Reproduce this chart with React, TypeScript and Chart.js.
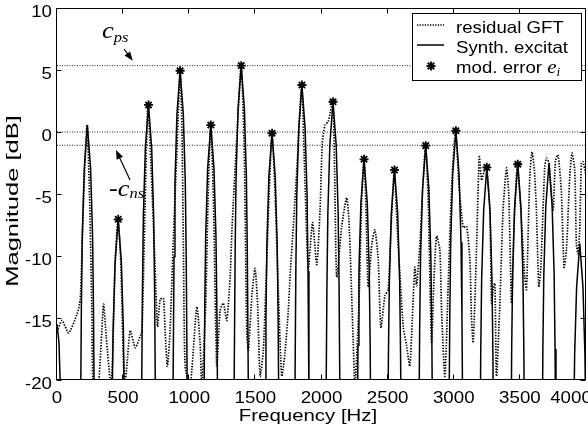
import React, { useEffect, useRef } from "react";
import { Chart, registerables } from "chart.js";

Chart.register(...registerables);

// ---------------- data ----------------
const X_TICKS = [0, 500, 1000, 1500, 2000, 2500, 3000, 3500, 4000];
const X_TICK_LABELS = ["0", "500", "1000", "1500", "2000", "2500", "3000", "3500", "4000"];
const Y_TICKS = [10, 5, 0, -5, -10, -15, -20];
const Y_TICK_LABELS = ["10", "5", "0", "-5", "-10", "-15", "-20"];

// harmonic peaks of the synthesized excitation (Hz, dB)
const HARMONIC_HZ = [230, 463, 692, 931, 1163, 1393, 1626, 1852, 2087, 2322, 2552, 2788, 3016, 3250, 3484, 3720, 3953];
const PEAK_DB = [0.56, -7.04, 2.18, 4.94, 0.56, 5.35, -0.1, 3.79, 2.44, -2.2, -3.06, -1.1, 0.1, -2.85, -2.6, -2.5, -9.0];

// main-lobe shape read around each peak (offset Hz, drop below the peak in dB)
const LOBE_OFFSET_HZ = [-60, -53, -46, -39, -24, 0, 24, 39, 46, 53, 60];
const LOBE_DROP_DB = [50, 25, 15, 9, 3.5, 0, 3.5, 9, 15, 25, 50];

// partial lobe at 0 Hz
const DC_HZ = [0, 15, 25, 40];
const DC_DB = [-15.5, -17, -20.5, -45];

// model error markers
const STAR_HZ = [463, 692, 931, 1163, 1393, 1626, 1852, 2087, 2322, 2552, 2788, 3016, 3250, 3484];
const STAR_DB = [-7.04, 2.18, 4.94, 0.56, 5.35, -0.1, 3.79, 2.44, -2.2, -3.06, -1.1, 0.1, -2.85, -2.6];

// residual GFT (dotted)
const RESID_HZ = [
  0, 38, 88, 151, 176, 199, 227, 248, 263, 274, 312, 352, 372, 408, 421, 440, 461, 482, 501, 512,
  531, 554, 591, 618, 642, 659, 687, 712, 731, 742, 760, 780, 805, 818, 835, 855, 882, 905, 931, 945,
  956, 969, 1007, 1057, 1082, 1095, 1124, 1143, 1163, 1184, 1208, 1233, 1258, 1284, 1309, 1322, 1334, 1362, 1392, 1415,
  1435, 1447, 1475, 1498, 1517, 1536, 1560, 1581, 1604, 1626, 1649, 1671, 1699, 1724, 1749, 1762, 1787, 1819, 1850, 1875,
  1900, 1932, 1964, 1989, 2006, 2026, 2051, 2085, 2099, 2115, 2153, 2190, 2207, 2219, 2240, 2253, 2283, 2302, 2321, 2336,
  2353, 2381, 2404, 2429, 2449, 2480, 2505, 2525, 2550, 2574, 2618, 2643, 2668, 2687, 2706, 2719, 2744, 2763, 2787, 2808,
  2832, 2850, 2870, 2895, 2908, 2933, 2959, 2986, 3014, 3038, 3071, 3097, 3122, 3134, 3147, 3172, 3193, 3211, 3229, 3248,
  3273, 3286, 3298, 3311, 3323, 3348, 3373, 3399, 3416, 3437, 3458, 3482, 3511, 3537, 3550, 3575, 3592, 3609, 3625, 3643,
  3658, 3688, 3701, 3720, 3751, 3769, 3789, 3814, 3834, 3852, 3877, 3894, 3915, 3927, 3939, 3952, 3965, 3977, 4000,
];
const RESID_DB = [
  -16.1, -15.2, -16.2, -14.7, -13.5, -6, 0.56, -6, -14, -20.5, -20.5, -13.9, -16.5, -20.5, -18, -10.5, -7.04, -10.5, -18, -20.5,
  -18.5, -16.0, -17.4, -16.8, -16.0, -9, 2.18, -3, -8, -11, -15.7, -13.5, -13.4, -16.2, -18.9, -16, -8, -2, 4.94, 0,
  -9.5, -18.9, -20.5, -14.1, -17, -20.5, -14, -5, 0.56, -6, -18.9, -14.4, -13.8, -15.2, -11.7, -8.1, -5.5, 0, 5.35, -1,
  -16.2, -17.6, -13, -11, -14, -19.7, -17.6, -12, -5, -0.1, -5, -12, -19.7, -17.8, -14.4, -11.7, -7.6, -2, 3.79, -4,
  -11.1, -7.3, -10.7, -6.3, -0.9, 0.56, 0.83, 2.44, -3, -11.7, -7.6, -5.3, -7, -10.3, -17, -20.5, -14, -6, -2.2, -6,
  -12.5, -9, -7.9, -10.3, -15.8, -13.2, -12.7, -8, -3.06, -8, -15.7, -17.2, -18.9, -15, -10.9, -12.4, -9, -5, -1.1, -6,
  -17, -12, -8.4, -9.5, -14.4, -19.7, -12, -4, 0.1, -4, -7.7, -7.6, -10.3, -15, -17, -9.5, -2.0, -3.9, -3.2, -2.85,
  -6.3, -13.8, -12.7, -12.2, -19.7, -14, -6.3, -2.9, -5, -13.8, -7, -2.6, -7, -11.7, -12.7, -3.6, -1.6, -3, -6.3, -12.5,
  -11, -2.8, -2.1, -2.5, -6.3, -2.3, -1.85, -4.9, -10.9, -9.5, -3.6, -1.7, -3.1, -9, -9.8, -8, -2.5, -2.4, -3.5,
];

// threshold lines
const C_PS_DB = 5.35;
const ZERO_DB = 0;
const C_NS_DB = -1.07;

const X_MIN = 0;
const X_MAX = 4000;
const Y_MIN = -20;
const Y_MAX = 10;

// ---------------- drawing helpers ----------------
const SANS = '"Liberation Sans", Arial, Helvetica, sans-serif';
const SERIF = '"Liberation Serif", "Times New Roman", serif';

function txt(ctx: CanvasRenderingContext2D, s: string, x: number, y: number, font: string, align: string, sx: number) {
  ctx.save();
  ctx.font = font;
  ctx.textAlign = "left";
  ctx.textBaseline = "alphabetic";
  const w = ctx.measureText(s).width * sx;
  const x0 = align === "center" ? x - w / 2 : align === "right" ? x - w : x;
  ctx.translate(x0, y);
  ctx.scale(sx, 1);
  ctx.fillStyle = "#000";
  ctx.fillText(s, 0, 0);
  ctx.restore();
  return w;
}

function arrow(ctx: CanvasRenderingContext2D, x1: number, y1: number, x2: number, y2: number) {
  const a = Math.atan2(y2 - y1, x2 - x1);
  const hl = 9;
  const hw = 3.5;
  ctx.save();
  ctx.strokeStyle = "#000";
  ctx.fillStyle = "#000";
  ctx.lineWidth = 1.2;
  ctx.beginPath();
  ctx.moveTo(x1, y1);
  ctx.lineTo(x2 - Math.cos(a) * hl * 0.8, y2 - Math.sin(a) * hl * 0.8);
  ctx.stroke();
  ctx.beginPath();
  ctx.moveTo(x2, y2);
  ctx.lineTo(x2 - Math.cos(a) * hl + Math.sin(a) * hw, y2 - Math.sin(a) * hl - Math.cos(a) * hw);
  ctx.lineTo(x2 - Math.cos(a) * hl - Math.sin(a) * hw, y2 - Math.sin(a) * hl + Math.cos(a) * hw);
  ctx.closePath();
  ctx.fill();
  ctx.restore();
}

function starMark(ctx: CanvasRenderingContext2D, x: number, y: number, r: number) {
  ctx.save();
  ctx.strokeStyle = "#000";
  ctx.lineWidth = 1.8;
  ctx.beginPath();
  ctx.moveTo(x - r, y);
  ctx.lineTo(x + r, y);
  ctx.moveTo(x, y - r);
  ctx.lineTo(x, y + r);
  const d = r * 0.72;
  ctx.moveTo(x - d, y - d);
  ctx.lineTo(x + d, y + d);
  ctx.moveTo(x - d, y + d);
  ctx.lineTo(x + d, y - d);
  ctx.stroke();
  ctx.restore();
}

const decorPlugin = {
  id: "decor",
  beforeDraw(chart: any) {
    const ctx = chart.ctx;
    ctx.save();
    ctx.fillStyle = "#fff";
    ctx.fillRect(0, 0, chart.width, chart.height);
    ctx.restore();
  },
  afterDraw(chart: any) {
    const ctx: CanvasRenderingContext2D = chart.ctx;
    const xs = chart.scales.x;
    const ys = chart.scales.y;
    const L = Math.round(xs.getPixelForValue(X_MIN)) - 0.5;
    const R = Math.round(xs.getPixelForValue(X_MAX)) - 0.5;
    const T = Math.round(ys.getPixelForValue(Y_MAX)) + 0.5;
    const B = Math.round(ys.getPixelForValue(Y_MIN)) - 0.5;

    // frame + inward ticks
    ctx.save();
    ctx.strokeStyle = "#000";
    ctx.lineWidth = 1;
    ctx.strokeRect(L, T, R - L, B - T);
    ctx.beginPath();
    const tl = 5;
    X_TICKS.forEach((v) => {
      const px = Math.round(xs.getPixelForValue(v)) - 0.5;
      ctx.moveTo(px, B);
      ctx.lineTo(px, B - tl);
      ctx.moveTo(px, T);
      ctx.lineTo(px, T + tl);
    });
    Y_TICKS.forEach((v) => {
      const py = Math.round(ys.getPixelForValue(v)) + 0.5;
      ctx.moveTo(L, py);
      ctx.lineTo(L + tl, py);
      ctx.moveTo(R, py);
      ctx.lineTo(R - tl, py);
    });
    ctx.stroke();
    ctx.restore();

    const fTick = `17px ${SANS}`;
    // y tick labels
    Y_TICKS.forEach((v, i) => {
      txt(ctx, Y_TICK_LABELS[i], 52, ys.getPixelForValue(v) + 9, fTick, "right", 1.1);
    });
    // x tick labels
    X_TICKS.forEach((v, i) => {
      let px = xs.getPixelForValue(v);
      if (i === X_TICKS.length - 1) px = 571;
      txt(ctx, X_TICK_LABELS[i], px, 403, fTick, "center", 1.1);
    });
    // axis titles
    txt(ctx, "Frequency [Hz]", (L + R) / 2 - 13, 421, `17px ${SANS}`, "center", 1.2);
    ctx.save();
    ctx.translate(18, 201);
    ctx.rotate(-Math.PI / 2);
    ctx.scale(1.5, 1);
    ctx.font = `17px ${SANS}`;
    ctx.textAlign = "center";
    ctx.textBaseline = "alphabetic";
    ctx.fillStyle = "#000";
    ctx.fillText("Magnitude [dB]", 0, 0);
    ctx.restore();

    // annotations
    const big = `italic 24px ${SERIF}`;
    const sub = `italic 15px ${SERIF}`;
    let w = txt(ctx, "c", 102, 38, big, "left", 1.1);
    txt(ctx, "ps", 102 + w, 41.5, sub, "left", 1.1);
    w = txt(ctx, "-c", 109, 196, big, "left", 1.1);
    txt(ctx, "ns", 109 + w, 198, sub, "left", 1.1);
    arrow(ctx, 124, 49, 132.7, 60.7);
    arrow(ctx, 130, 180, 116, 150);

    // legend
    ctx.save();
    ctx.fillStyle = "#fff";
    ctx.fillRect(412.5, 13.5, 169, 67);
    ctx.strokeStyle = "#000";
    ctx.lineWidth = 1;
    ctx.strokeRect(412.5, 13.5, 169, 67);
    ctx.lineWidth = 1.6;
    ctx.setLineDash([1.3, 1.3]);
    ctx.beginPath();
    ctx.moveTo(417, 25);
    ctx.lineTo(444, 25);
    ctx.stroke();
    ctx.setLineDash([]);
    ctx.lineWidth = 1.5;
    ctx.beginPath();
    ctx.moveTo(417, 45);
    ctx.lineTo(444, 45);
    ctx.stroke();
    ctx.restore();
    starMark(ctx, 431, 66, 4.5);
    const fLeg = `16.5px ${SANS}`;
    txt(ctx, "residual GFT", 456, 33, fLeg, "left", 1.13);
    txt(ctx, "Synth. excitat", 456, 53, fLeg, "left", 1.13);
    w = txt(ctx, "mod. error ", 456, 73, fLeg, "left", 1.13);
    const ew = txt(ctx, "e", 456 + w, 73, `italic 19px ${SERIF}`, "left", 1.1);
    txt(ctx, "i", 456 + w + ew, 76, `italic 12px ${SERIF}`, "left", 1.1);
  },
};

export default function App() {
  const ref = useRef<HTMLCanvasElement | null>(null);

  useEffect(() => {
    if (!ref.current) return;
    const synth: { x: number; y: number }[] = [];
    DC_HZ.forEach((f, i) => synth.push({ x: f, y: DC_DB[i] }));
    HARMONIC_HZ.forEach((f, k) =>
      LOBE_OFFSET_HZ.forEach((o, j) => synth.push({ x: f + o, y: PEAK_DB[k] - LOBE_DROP_DB[j] }))
    );
    const resid = RESID_HZ.map((f, i) => ({ x: f, y: RESID_DB[i] }));
    const stars = STAR_HZ.map((f, i) => ({ x: f, y: STAR_DB[i] }));
    const hline = (v: number) => [
      { x: X_MIN, y: v },
      { x: X_MAX, y: v },
    ];
    const refStyle = {
      type: "line" as const,
      borderColor: "#222",
      borderWidth: 1,
      borderDash: [1, 1.5],
      pointRadius: 0,
      order: 5,
    };

    const chart = new Chart(ref.current, {
      type: "line",
      data: {
        datasets: [
          { ...refStyle, label: "c_ps", data: hline(C_PS_DB) },
          { ...refStyle, label: "zero", data: hline(ZERO_DB) },
          { ...refStyle, label: "-c_ns", data: hline(C_NS_DB) },
          {
            label: "residual GFT",
            data: resid,
            borderColor: "#000",
            borderWidth: 1.7,
            borderDash: [1.4, 1.4],
            pointRadius: 0,
            tension: 0.2,
            order: 3,
          },
          {
            label: "Synth. excitat",
            data: synth,
            borderColor: "#000",
            borderWidth: 1.5,
            pointRadius: 0,
            tension: 0,
            order: 2,
          },
          {
            label: "mod. error",
            data: stars,
            showLine: false,
            pointStyle: "star",
            pointRadius: 4.5,
            pointBorderWidth: 1.8,
            pointBorderColor: "#000",
            pointBackgroundColor: "#000",
            borderColor: "#000",
            order: 1,
          },
        ],
      },
      options: {
        responsive: false,
        animation: false,
        devicePixelRatio: 1,
        parsing: true,
        layout: { autoPadding: false, padding: { left: 57, top: 8, right: 2, bottom: 48 } },
        plugins: { legend: { display: false }, tooltip: { enabled: false } },
        scales: {
          x: { type: "linear", min: X_MIN, max: X_MAX, display: false },
          y: { type: "linear", min: Y_MIN, max: Y_MAX, display: false },
        },
      },
      plugins: [decorPlugin],
    });
    return () => chart.destroy();
  }, []);

  return (
    <div style={{ position: "absolute", left: 0, top: 0, width: 588, height: 428, background: "#fff" }}>
      <canvas ref={ref} width={588} height={428} style={{ width: 588, height: 428, display: "block" }} />
    </div>
  );
}
